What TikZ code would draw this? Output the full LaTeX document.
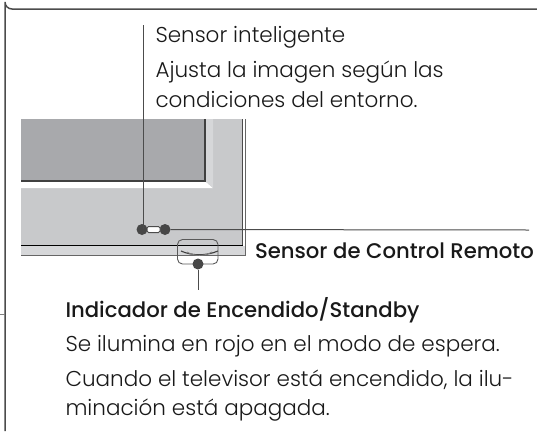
\documentclass[tikz,border=0pt]{standalone}
\usepackage{fontspec}
\setmainfont{Poppins}[UprightFont=* Light,BoldFont=* Medium]
\definecolor{scr}{HTML}{A8A9AC}
\definecolor{bez}{HTML}{C8C9CB}
\definecolor{cham}{HTML}{D6D7D9}
\tikzset{
 lbl/.style={anchor=base west,inner sep=0pt,outer sep=0pt,font=\fontsize{21.5}{21.5}\selectfont,text=black!90},
 blbl/.style={lbl,font=\fontsize{21.2}{21.2}\selectfont\bfseries},
 leader/.style={draw=black!70,line width=1pt},
 dot/.style={circle,fill=black!72,inner sep=0pt,minimum size=11pt},
}
\begin{document}
\begin{tikzpicture}[x=1pt,y=-1pt]
\useasboundingbox (0,0) rectangle (537,431);
% frame
\draw[black!70,line width=1.5pt] (537,9) -- (12,9) arc[start angle=90,end angle=180,radius=7] -- (5,431);
\draw[black!50,line width=.8pt] (0,314) -- (5,314);
% tv
\fill[bez] (21,119) rectangle (242,245);
\fill[white] (21,181) -- (205,181) -- (213,188) -- (21,188) -- cycle;
\fill[cham] (205,119) -- (213,119) -- (213,188) -- (205,181) -- cycle;
\fill[scr] (21,119) rectangle (205,181);
\draw[black!75,line width=1.4pt] (21,181) -- (205,181) -- (205,119);
\fill[cham] (21,246) rectangle (245,254.5);
\draw[black!70,line width=1pt] (242,119) -- (242,245);
\draw[black!60,line width=1pt] (245.5,119) -- (245.5,255) -- (21,255);
\draw[black,line width=1pt] (21,245) -- (243,245);
% indicator
\draw[black!75,line width=1.1pt] (181,251) .. controls (192,256) and (206,256) .. (218,251);
\draw[black!50,line width=.8pt] (187,252) .. controls (195,256.5) and (204,256.5) .. (212,252);
\draw[black!65,line width=.9pt,rounded corners=5pt] (177.5,239.5) rectangle (218,264);
% leaders
\node[dot] (a) at (142,229.5) {};
\node[dot] (b) at (165,229.5) {};
\draw[black!70,line width=1pt,fill=white,rounded corners=1.5pt] (147,226.5) rectangle (160,232.5);
\node[dot] (c) at (198,264) {};
\coordinate (at) at (143.5,25);
\coordinate (bt) at (529,230);
\coordinate (ct) at (198,290);
\draw[leader] (at) -- (143.5,229);
\draw[leader] (b) -- (bt);
\draw[leader] (c) -- (ct);
% text
\node[lbl] (t1) at (155.5,42) {Sensor inteligente};
\node[lbl] (t2) at (155.5,77) {Ajusta la imagen según las};
\node[lbl] (t3) at (155.5,107) {condiciones del entorno.};
\node[blbl] (t4) at (255,258) {Sensor de Control Remoto};
\node[blbl] (t5) at (65.5,317) {Indicador de Encendido/Standby};
\node[lbl] (t6) at (65.5,351) {Se ilumina en rojo en el modo de espera.};
\node[lbl] (t7) at (65.5,386.5) {Cuando el televisor está encendido, la ilu-};
\node[lbl] (t8) at (65.5,415) {minación está apagada.};
\end{tikzpicture}
\end{document}
